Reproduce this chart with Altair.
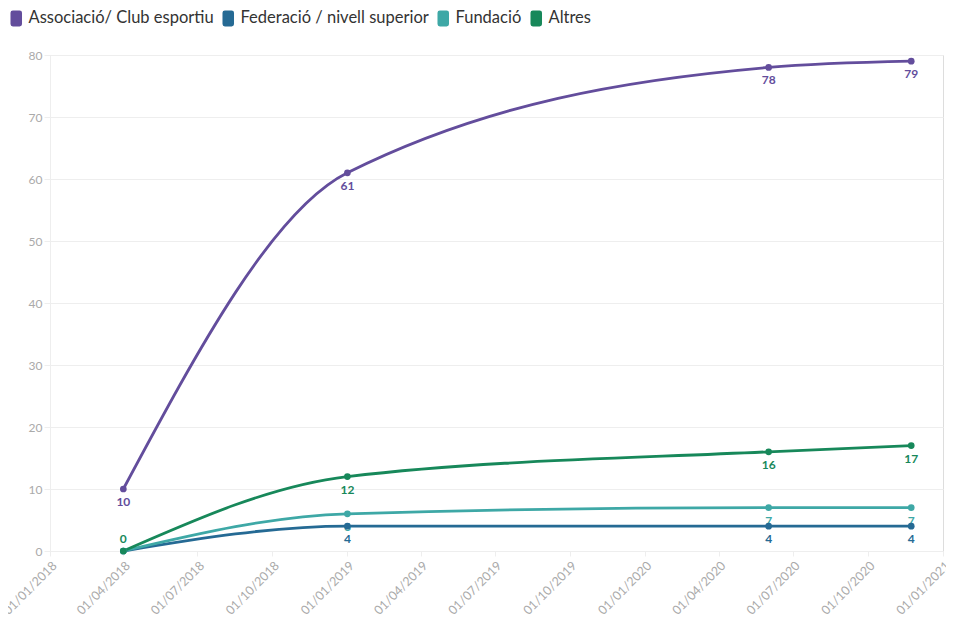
import altair as alt
import pandas as pd

dates = ["2018-04-01", "2019-01-01", "2020-06-01", "2020-11-23"]
series_names = ["Associació/ Club esportiu", "Federació / nivell superior", "Fundació", "Altres"]
assoc = [10, 61, 78, 79]
feder = [0, 4, 4, 4]
fund = [0, 6, 7, 7]
altres = [0, 12, 16, 17]
colors = ["#634d9c", "#256a94", "#3ea8a6", "#17885a"]

# which points carry a label: "below", "above" or "" (none)
label_pos = {
    "Associació/ Club esportiu": ["below", "below", "below", "below"],
    "Federació / nivell superior": ["", "below", "below", "below"],
    "Fundació": ["", "below", "below", "below"],
    "Altres": ["above", "below", "below", "below"],
}

rows = []
for name, vals in zip(series_names, [assoc, feder, fund, altres]):
    for i, (d, v) in enumerate(zip(dates, vals)):
        rows.append({"date": d + "T00:00:00Z", "value": v, "serie": name,
                     "order": series_names.index(name), "pos": label_pos[name][i]})
df = pd.DataFrame(rows)

FONT = "Lato"
RRECT = ("M-0.72,-1 H0.42 Q0.72,-1 0.72,-0.7 V0.7 Q0.72,1 0.42,1 "
         "H-0.42 Q-0.72,1 -0.72,0.7 V-0.7 Q-0.72,-1 -0.42,-1 Z")
color_scale = alt.Scale(domain=series_names, range=colors)
legend = alt.Legend(title=None, orient="none", direction="horizontal",
                    legendX=-42, legendY=-45,
                    symbolType=RRECT, symbolSize=256,
                    symbolStrokeWidth=0, symbolOpacity=1,
                    labelFont=FONT, labelFontSize=16.5, labelColor="#333333",
                    labelLimit=400, columnPadding=6, labelOffset=4)
color_leg = alt.Color("serie:N", scale=color_scale, sort=series_names, legend=legend)
color_noleg = alt.Color("serie:N", scale=color_scale, sort=series_names, legend=None)

x_enc = alt.X("date:T",
              scale=alt.Scale(type="utc",
                              domain=[alt.DateTime(year=2018, month=1, date=1, utc=True),
                                      alt.DateTime(year=2021, month=1, date=1, utc=True)]),
              axis=alt.Axis(title=None,
                            labelExpr="utcFormat(datum.value, '%d/%m/%Y')",
                            tickCount={"interval": "month", "step": 3},
                            labelAngle=-45, labelAlign="right", labelBaseline="top",
                            labelColor="#aaaaaa", labelFontSize=12.5, labelFont=FONT,
                            grid=False, domain=False, ticks=True, tickColor="#eeeeee",
                            tickSize=5, labelPadding=3, labelOverlap=False,
                            labelBound=False, labelFlush=False))
y_enc = alt.Y("value:Q", scale=alt.Scale(domain=[0, 80]),
              axis=alt.Axis(title=None, values=list(range(0, 81, 10)),
                            labelColor="#aaaaaa", labelFontSize=12, labelFont=FONT,
                            gridColor="#eeeeee", domain=True, domainColor="#eeeeee",
                            tickColor="#eeeeee", tickSize=6, labelPadding=2))

base = alt.Chart(df).encode(x=x_enc, y=y_enc, color=color_noleg)

# empty layer that only carries the legend (rounded-rectangle swatches)
legend_layer = alt.Chart(df).transform_filter("false").mark_point(
    shape=RRECT, filled=True, size=256, opacity=1, strokeWidth=0).encode(
    x=x_enc, y=y_enc, color=color_leg)

lines = base.mark_line(interpolate="monotone", strokeWidth=2.8).encode(
    order="order:Q",
    detail="serie:N",
)

points = base.mark_circle(size=45, opacity=1)

below = base.transform_filter(alt.datum.pos == "below").mark_text(
    dy=13, fontSize=12, fontWeight="bold", font=FONT).encode(text="value:Q")

above = base.transform_filter(alt.datum.pos == "above").mark_text(
    dy=-12, fontSize=12, fontWeight="bold", font=FONT).encode(text="value:Q")

chart = alt.layer(legend_layer, below, above, lines, points).resolve_legend(
    color="independent"
).properties(
    width=893, height=496,
    padding={"left": 42, "top": 47, "right": 3, "bottom": 68},
    autosize=alt.AutoSizeParams(type="none"),
).configure_view(stroke=None).configure(background="white")

chart.save("out.html", embed_options={"renderer": "svg", "actions": False})
